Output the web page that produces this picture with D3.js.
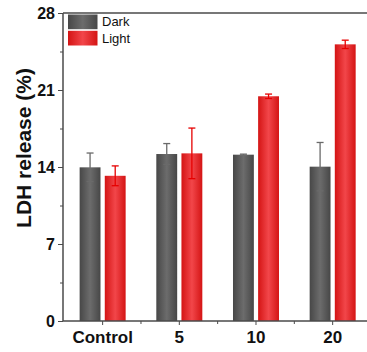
<!DOCTYPE html>
<html>
<head>
<meta charset="utf-8">
<script src="https://cdn.jsdelivr.net/npm/d3@7"></script>
<style>
  html, body { margin: 0; padding: 0; background: #fff; }
  svg { display: block; font-family: Arial, "Liberation Sans", sans-serif; }
</style>
</head>
<body>
<svg id="chart" width="367" height="352"></svg>
<script>
// LDH release (%) under dark and light conditions
const categories = ["Control", "5", "10", "20"];
const seriesNames = ["Dark", "Light"];
const darkValues = [13.97, 15.18, 15.12, 14.03];
const darkErrors = [1.3, 0.95, 0.05, 2.2];
const lightValues = [13.2, 15.24, 20.43, 25.15];
const lightErrors = [0.9, 2.3, 0.2, 0.38];
const yTicks = [0, 7, 14, 21, 28];
const yMinorTicks = [3.5, 10.5, 17.5, 24.5];

const svg = d3.select("#chart");
const plotLeft = 63, plotRight = 367, plotTop = 13, plotBottom = 321;

const x = d3.scaleBand().domain(categories).range([64.3, 371]).paddingInner(0).paddingOuter(0);
const xSub = d3.scaleBand().domain(seriesNames).range([-23, 23]).paddingInner(0.17);
const y = d3.scaleLinear().domain([0, 28]).range([plotBottom, plotTop]);

// Horizontal gradients give the bars their rounded look
const defs = svg.append("defs");
function grad(id, edge, mid) {
  const g = defs.append("linearGradient").attr("id", id).attr("x1", "0").attr("x2", "1").attr("y1", "0").attr("y2", "0");
  g.append("stop").attr("offset", "0%").attr("stop-color", edge);
  g.append("stop").attr("offset", "50%").attr("stop-color", mid);
  g.append("stop").attr("offset", "100%").attr("stop-color", edge);
}
grad("gDark", "#474747", "#6c6c6c");
grad("gLight", "#d41414", "#f2464a");

const series = [
  { name: "Dark", values: darkValues, errors: darkErrors, fill: "url(#gDark)", err: "#6a6a6a" },
  { name: "Light", values: lightValues, errors: lightErrors, fill: "url(#gLight)", err: "#e60000" }
];

// Bars
series.forEach(s => {
  const g = svg.append("g");
  g.selectAll("rect").data(categories).join("rect")
    .attr("x", (c) => x(c) + x.bandwidth() / 2 + xSub(s.name))
    .attr("width", xSub.bandwidth())
    .attr("y", (c, i) => y(s.values[i]))
    .attr("height", (c, i) => y(0) - y(s.values[i]))
    .attr("fill", s.fill);
});

// Error bars
series.forEach(s => {
  const g = svg.append("g").attr("stroke", s.err).attr("stroke-width", 1.3);
  categories.forEach((c, i) => {
    const cx = x(c) + x.bandwidth() / 2 + xSub(s.name) + xSub.bandwidth() / 2;
    const hi = y(s.values[i] + s.errors[i]);
    const lo = y(s.values[i] - s.errors[i]);
    g.append("line").attr("x1", cx).attr("x2", cx).attr("y1", hi).attr("y2", lo);
    g.append("line").attr("x1", cx - 3.5).attr("x2", cx + 3.5).attr("y1", hi).attr("y2", hi);
    g.append("line").attr("x1", cx - 3.5).attr("x2", cx + 3.5).attr("y1", lo).attr("y2", lo);
  });
});

const axisColor = "#4a4a4a";

// Y axis
const yAxis = svg.append("g").attr("transform", `translate(${plotLeft},0)`)
  .call(d3.axisLeft(y).tickValues(yTicks).tickSize(5).tickPadding(3).tickFormat(d3.format("d")));
yAxis.select(".domain").remove();
yAxis.selectAll(".tick line").attr("stroke", axisColor).attr("stroke-width", 1);
yAxis.selectAll(".tick text").attr("fill", "#111").style("font-size", "16px").style("font-weight", "bold")
  .attr("dy", "0.36em");
svg.append("g").attr("transform", `translate(${plotLeft},0)`)
  .call(d3.axisLeft(y).tickValues(yMinorTicks).tickSize(3).tickFormat(""))
  .call(g => g.select(".domain").remove())
  .selectAll(".tick line").attr("stroke", axisColor);

// X axis
const xAxis = svg.append("g").attr("transform", `translate(0,${plotBottom})`)
  .call(d3.axisBottom(x).tickSize(4).tickPadding(6));
xAxis.select(".domain").remove();
xAxis.selectAll(".tick line").attr("stroke", axisColor);
xAxis.selectAll(".tick text").attr("fill", "#111").style("font-size", "17px").style("font-weight", "bold");
const minorX = categories.slice(0, -1).map(c => x(c) + x.bandwidth());
svg.append("g").selectAll("line").data(minorX).join("line")
  .attr("x1", d => d).attr("x2", d => d).attr("y1", plotBottom).attr("y2", plotBottom + 3)
  .attr("stroke", axisColor);

// Frame lines
svg.append("line").attr("x1", plotLeft).attr("x2", plotRight).attr("y1", plotBottom).attr("y2", plotBottom)
  .attr("stroke", axisColor).attr("stroke-width", 1.5);
svg.append("line").attr("x1", plotLeft).attr("x2", plotRight).attr("y1", plotTop).attr("y2", plotTop)
  .attr("stroke", axisColor).attr("stroke-width", 1.5);
svg.append("line").attr("x1", plotLeft).attr("x2", plotLeft).attr("y1", plotTop).attr("y2", plotBottom)
  .attr("stroke", axisColor).attr("stroke-width", 1.5);

// Y title
svg.append("text")
  .attr("transform", `translate(31,148) rotate(-90)`)
  .attr("text-anchor", "middle")
  .style("font-size", "21px").style("font-weight", "bold").attr("fill", "#111")
  .text("LDH release (%)");

// Legend
const legend = svg.append("g").attr("transform", "translate(68,14.5)");
series.forEach((s, i) => {
  const row = legend.append("g").attr("transform", `translate(0,${i * 16.3})`);
  row.append("rect").attr("width", 29.5).attr("height", 14.7).attr("fill", s.fill);
  row.append("text").attr("x", 34).attr("y", 11.8).style("font-size", "13px").attr("fill", "#111").text(s.name);
});
</script>
</body>
</html>
